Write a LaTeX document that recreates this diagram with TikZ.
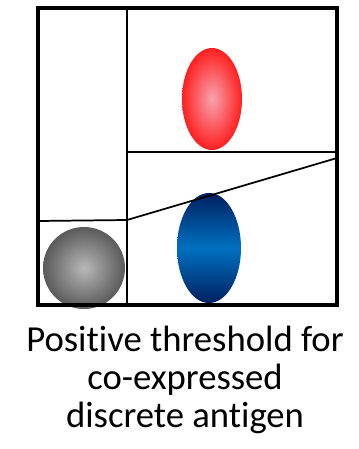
\documentclass[tikz,border=0pt]{standalone}
\usepackage{fontspec}
\setmainfont[RawFeature=-liga]{Carlito}
\usepackage{tikz}
\usetikzlibrary{positioning, calc}
\definecolor{gateink}{HTML}{000000}
\definecolor{redcore}{HTML}{F7A3AE}
\definecolor{rededge}{HTML}{FF1F1F}
\definecolor{bluemid}{HTML}{0070C0}
\definecolor{bluedark}{HTML}{00205F}
\definecolor{graycore}{HTML}{B8B8B8}
\definecolor{grayedge}{HTML}{5A5A5A}
\tikzset{
  plotframe/.style={draw=gateink, line width=3pt, line cap=rect},
  gateline/.style={draw=gateink, line width=1.3pt},
  redpop/.style={inner color=redcore, outer color=rededge},
  bluepop/.style={top color=bluedark, bottom color=bluedark, middle color=bluemid},
  graypop/.style={inner color=graycore, outer color=grayedge},
  caption/.style={align=center, font=\fontsize{27.5}{28.5}\selectfont, text=black}
}
\begin{document}
\begin{tikzpicture}[x=0.75pt, y=-0.75pt]
\useasboundingbox (0,0) rectangle (359,449);
% populations
\shade[redpop] (212,99) ellipse [x radius=30, y radius=51];
\shade[bluepop] (209,248) ellipse [x radius=32, y radius=55];
\shade[graypop] (84,268) circle [radius=41];
% gates
\draw[gateline] (127,8) -- (127,305);
\draw[gateline] (127,152) -- (337,152);
\draw[gateline] (38,221) -- (127,220) -- (337,158);
\draw[plotframe] (38,8) rectangle (337,305);
% label
\node[caption] (label) at (185,380) {Positive threshold for\\co-expressed\\discrete antigen};
\end{tikzpicture}
\end{document}
